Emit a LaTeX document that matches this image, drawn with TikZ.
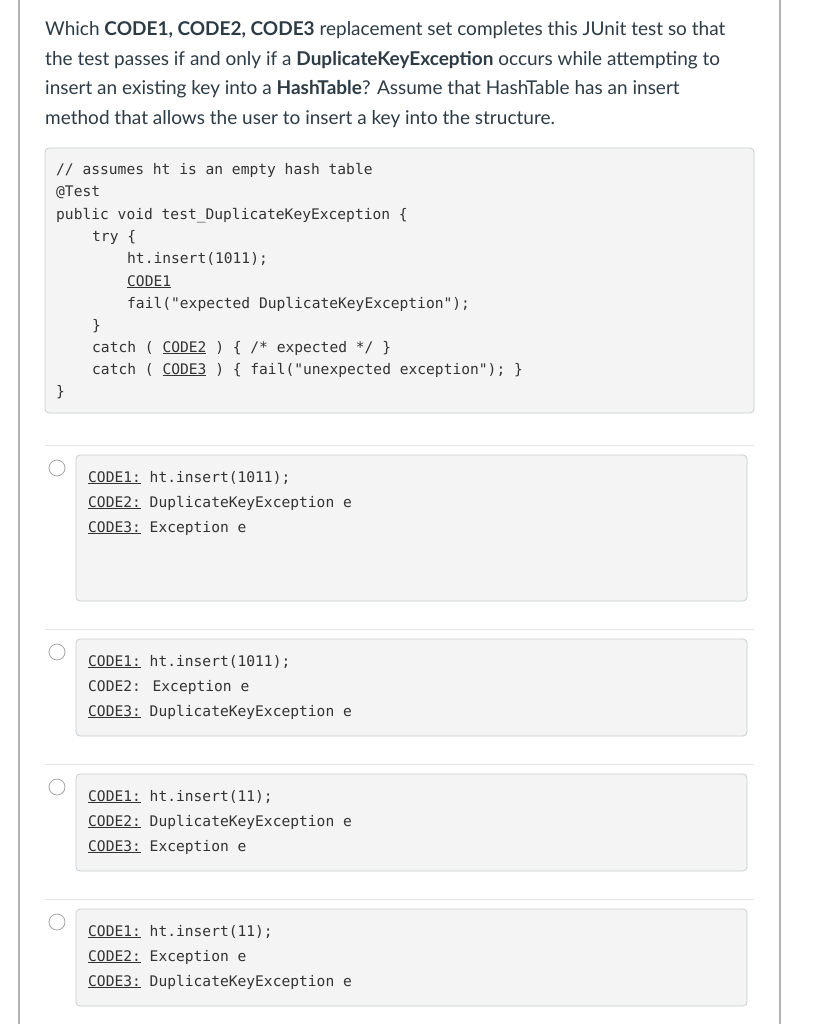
\documentclass[tikz,border=0pt]{standalone}
\usepackage{fontspec}
\setmainfont{Lato}
\newfontfamily\codefont{DejaVu Sans Mono}
\definecolor{ink}{HTML}{2D3B45}
\definecolor{codeink}{HTML}{333333}
\definecolor{boxfill}{HTML}{F4F4F4}
\definecolor{boxline}{HTML}{C7CDD1}
\definecolor{rule}{HTML}{E5E5E5}
\newcommand{\cu}[1]{\underline{#1}}

\begin{document}
\begin{tikzpicture}[x=1pt,y=-1pt,
  qtext/.style={anchor=base west,inner sep=0pt,text=ink,font=\fontsize{19}{19}\selectfont},
  ctext/.style={anchor=base west,inner sep=0pt,text=codeink,font=\codefont\fontsize{14.6}{14.6}\selectfont},
  codebox/.style={draw=boxline,fill=boxfill,rounded corners=4pt,line width=0.8pt},
  radio/.style={draw=gray!70,fill=white,line width=0.8pt}]

\useasboundingbox[fill=white] (0,0) rectangle (821,1024);

% page frame
\draw[gray!60,line width=1.2pt] (19,0) -- (19,1024);
\draw[gray!60,line width=1.2pt] (780,0) -- (780,1024);

% question
\node[qtext] (q1) at (45,36) {Which \textbf{CODE1, CODE2, CODE3} replacement set completes this JUnit test so that};
\node[qtext] (q2) at (45,65.5) {the test passes if and only if a \textbf{DuplicateKeyException} occurs while attempting to};
\node[qtext] (q3) at (45,95) {insert an existing key into a \textbf{HashTable}? Assume that HashTable has an insert};
\node[qtext] (q4) at (45,124.5) {method that allows the user to insert a key into the structure.};

% code listing
\draw[codebox] (45,148) rectangle (754,413);
\node[ctext] (l1) at (56,175) {// assumes ht is an empty hash table};
\node[ctext] (l2) at (56,197) {@Test};
\node[ctext] (l3) at (56,219) {public void test\_DuplicateKeyException \{};
\node[ctext] (l4) at (92,241) {try \{};
\node[ctext] (l5) at (127,263) {ht.insert(1011);};
\node[ctext] (l6) at (127,286) {\cu{CODE1}};
\node[ctext] (l7) at (127,308) {fail("expected DuplicateKeyException");};
\node[ctext] (l8) at (92,330) {\}};
\node[ctext] (l9) at (92,352) {catch ( \cu{CODE2} ) \{ /* expected */ \}};
\node[ctext] (l10) at (92,374) {catch ( \cu{CODE3} ) \{ fail("unexpected exception"); \}};
\node[ctext] (l11) at (56,396) {\}};

% answer options
\foreach \y/\h/\a/\b/\c [count=\i] in {
  455/146/{\cu{CODE1:} ht.insert(1011);}/{\cu{CODE2:} DuplicateKeyException e}/{\cu{CODE3:} Exception e},
  639/97/{\cu{CODE1:} ht.insert(1011);}/{CODE2: Exception e}/{\cu{CODE3:} DuplicateKeyException e},
  774/97/{\cu{CODE1:} ht.insert(11);}/{\cu{CODE2:} DuplicateKeyException e}/{\cu{CODE3:} Exception e},
  909/97/{\cu{CODE1:} ht.insert(11);}/{\cu{CODE2:} Exception e}/{\cu{CODE3:} DuplicateKeyException e}}{
  \draw[rule,line width=1pt] (45,\y-10) -- (754,\y-10);
  \draw[codebox] (76,\y) rectangle (747,\y+\h);
  \draw[radio] (57,\y+13) circle (8);
  \node[ctext] (o\i a) at (88,\y+27) {\a};
  \node[ctext] (o\i b) at (88,\y+52) {\b};
  \node[ctext] (o\i c) at (88,\y+77) {\c};
}
\end{tikzpicture}
\end{document}
